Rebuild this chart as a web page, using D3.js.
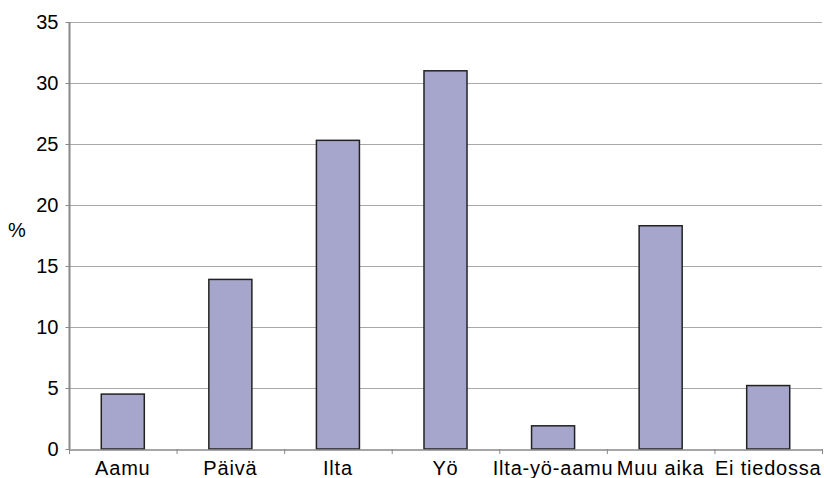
<!DOCTYPE html>
<html>
<head>
<meta charset="utf-8">
<script src="https://d3js.org/d3.v7.min.js"></script>
<style>
  body { margin: 0; background: #fff; }
  text { font-family: "Liberation Sans", Arial, sans-serif; fill: #000; }
</style>
</head>
<body>
<script>
// data
var categories = ["Aamu", "Päivä", "Ilta", "Yö", "Ilta-yö-aamu", "Muu aika", "Ei tiedossa"];
var values = [4.5, 13.9, 25.3, 31.0, 1.9, 18.3, 5.2];
var yTicks = [0, 5, 10, 15, 20, 25, 30, 35];

var width = 824, height = 478;
var margin = { left: 69, right: 2, top: 22, bottom: 29 };
var fontSize = "20px";

var svg = d3.select("body").append("svg")
    .attr("width", width)
    .attr("height", height);

var x = d3.scaleBand()
    .domain(categories)
    .range([margin.left, width - margin.right])
    .paddingInner(0.6)
    .paddingOuter(0.3);

// band scale without padding for tick positions at category boundaries
var xCat = d3.scaleBand()
    .domain(categories)
    .range([margin.left, width - margin.right]);

var y = d3.scaleLinear()
    .domain([0, 35])
    .range([height - margin.bottom, margin.top]);

// gridlines
svg.append("g")
    .selectAll("line")
    .data(yTicks.filter(function(d) { return d > 0; }))
    .enter().append("line")
    .attr("x1", margin.left)
    .attr("x2", width - margin.right)
    .attr("y1", function(d) { return y(d) + 0.5; })
    .attr("y2", function(d) { return y(d) + 0.5; })
    .attr("stroke", "#a8a8a8")
    .attr("stroke-width", 1);

// bars
svg.append("g")
    .selectAll("rect")
    .data(values)
    .enter().append("rect")
    .attr("x", function(d, i) { return x(categories[i]); })
    .attr("width", x.bandwidth())
    .attr("y", function(d) { return y(d); })
    .attr("height", function(d) { return y(0) - y(d); })
    .attr("fill", "#a6a6cc")
    .attr("stroke", "#222")
    .attr("stroke-width", 1.5);

// y axis
var yAxis = svg.append("g")
    .attr("transform", "translate(" + (margin.left + 0.5) + ",0)")
    .call(d3.axisLeft(y).tickValues(yTicks).tickSize(4).tickPadding(7));
yAxis.select(".domain").attr("stroke", "#888").attr("stroke-width", 2).attr("d", "M0," + y(35) + "V" + y(0));
yAxis.selectAll(".tick line").attr("stroke", "#888");
yAxis.selectAll(".tick text").style("font-size", fontSize).attr("fill", "#000");

// x axis
var xAxis = svg.append("g")
    .attr("transform", "translate(0," + (y(0) + 0.5) + ")")
    .call(d3.axisBottom(xCat).tickSize(0).tickPadding(11));
xAxis.select(".domain").attr("stroke", "#888").attr("stroke-width", 1.5);
xAxis.selectAll(".tick text")
    .style("font-size", fontSize)
    .style("letter-spacing", "0.8px")
    .attr("fill", "#000");

// boundary ticks
svg.append("g")
    .selectAll("line")
    .data(categories.concat(["end"]))
    .enter().append("line")
    .attr("x1", function(d, i) { return margin.left + i * xCat.step() + 0.5; })
    .attr("x2", function(d, i) { return margin.left + i * xCat.step() + 0.5; })
    .attr("y1", y(0))
    .attr("y2", y(0) + 5)
    .attr("stroke", "#888");

// axis title
svg.append("text")
    .attr("x", 17)
    .attr("y", y(17.8))
    .attr("text-anchor", "middle")
    .attr("dominant-baseline", "middle")
    .style("font-size", fontSize)
    .text("%");
</script>
</body>
</html>
